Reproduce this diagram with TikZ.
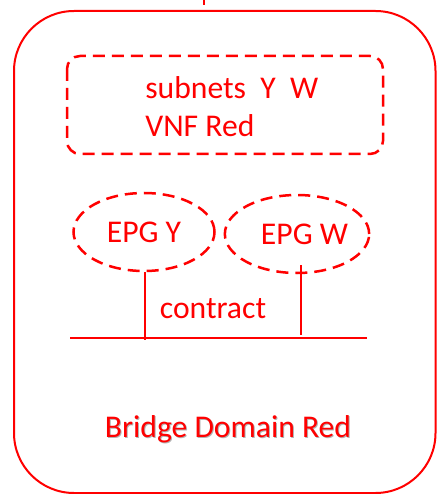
\documentclass[tikz,border=0pt]{standalone}
\usepackage{fontspec}
\setmainfont{Carlito}
\usepackage{tikz}
\usetikzlibrary{positioning,shapes.geometric}

\tikzset{
  redline/.style={color=red, line width=0.04cm},
  reddash/.style={color=red, line width=0.05cm, dash pattern=on 0.24cm off 0.14cm},
  thinred/.style={color=red, line width=0.6pt},
  redtext/.style={text=red, font=\fontsize{18}{21.5}\selectfont, inner sep=0pt},
  epg/.style={draw, reddash, ellipse, minimum width=2.82cm, minimum height=1.56cm, inner sep=0pt, text=red, font=\fontsize{18}{21}\selectfont}
}

\begin{document}
\begin{tikzpicture}
\useasboundingbox (0, 0) rectangle (8.74, -9.88);

\draw[redline, rounded corners=1.2cm](0.28, -0.22) rectangle (8.71, -9.86);
\coordinate (feedtop) at (4.08, 0);
\coordinate (feedend) at (4.08, -0.1);
\draw[color=red, line width=0.05cm](feedtop) -- (feedend);

\draw[reddash, rounded corners=0.26cm](1.34, -1.12) rectangle (7.66, -3.08);
\node[redtext, align=left, anchor=west] (subnets) at (2.9, -2.14) {subnets~~Y~~W\\VNF Red};

\node[epg] (epgY) at (2.88, -4.64) {EPG~Y};
\node[epg] (epgW) at (5.94, -4.68) {\hspace{0.3cm}EPG~W};

\coordinate (busL) at (1.4, -6.76);
\coordinate (busR) at (7.34, -6.76);
\draw[thinred](busL) -- (busR);

\coordinate (legY) at (2.9, -6.8);
\coordinate (legWtop) at (6.02, -5.3);
\coordinate (legW) at (6.02, -6.7);
\draw[thinred](epgY.south -| legY) -- (legY);
\draw[thinred](legWtop) -- (legW);

\node[redtext] (contract) at (4.26, -6.18) {contract};

\node[redtext, text=black!30] at (4.58, -8.6) {Bridge Domain Red};
\node[redtext] (bdname) at (4.56, -8.58) {Bridge Domain Red};

\end{tikzpicture}
\end{document}
